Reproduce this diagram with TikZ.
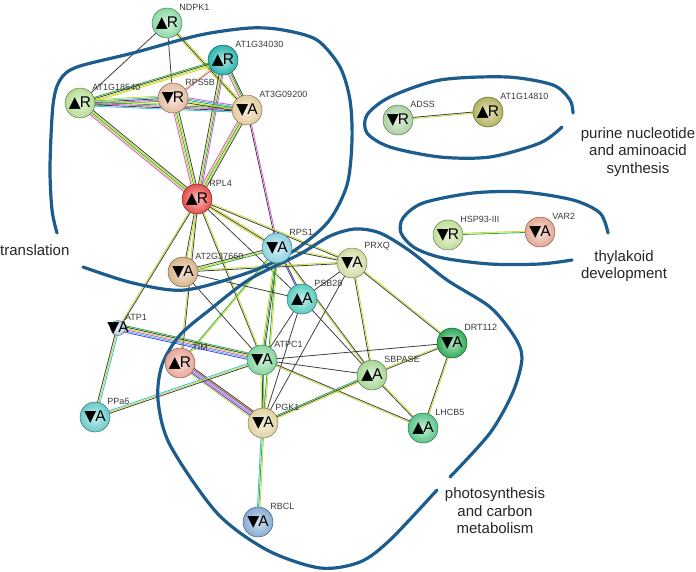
\documentclass[tikz,border=0pt]{standalone}
\usepackage{fontspec}
\setmainfont{Liberation Sans}
\newfontfamily\trifont{DejaVu Sans}
\usepackage{xcolor}
\usetikzlibrary{calc,backgrounds}

% interaction evidence colours
\definecolor{ek}{HTML}{404040}
\definecolor{ey}{HTML}{C8DC30}
\definecolor{eg}{HTML}{30AC3C}
\definecolor{em}{HTML}{DE4CDE}
\definecolor{ec}{HTML}{34C2E2}
\definecolor{eb}{HTML}{4444DC}
\definecolor{er}{HTML}{DE3030}
\definecolor{groupblue}{HTML}{1D5D8D}
\definecolor{lbltext}{HTML}{3A3A3A}
% protein colours
\definecolor{cndpk}{HTML}{8ED8A6}
\definecolor{cat34}{HTML}{2BB4AE}
\definecolor{cat18}{HTML}{B6DC96}
\definecolor{crps5b}{HTML}{E4BEA2}
\definecolor{cat09}{HTML}{E2CC9E}
\definecolor{crpl4}{HTML}{E64E4C}
\definecolor{crps1}{HTML}{8CD2E2}
\definecolor{cat37}{HTML}{D8B48C}
\definecolor{cprxq}{HTML}{D2DCA4}
\definecolor{cpsb28}{HTML}{5ACCBE}
\definecolor{catp1}{HTML}{B6CCE2}
\definecolor{ctim}{HTML}{E8A696}
\definecolor{catpc1}{HTML}{84D49E}
\definecolor{csbpase}{HTML}{A6D696}
\definecolor{cdrt}{HTML}{2EAC58}
\definecolor{clhcb5}{HTML}{5AC68A}
\definecolor{cppa6}{HTML}{6ACACA}
\definecolor{cpgk1}{HTML}{E2D2A2}
\definecolor{crbcl}{HTML}{84ACD4}
\definecolor{cadss}{HTML}{AAD2A2}
\definecolor{cat14}{HTML}{B4B25E}
\definecolor{chsp}{HTML}{C0DE98}
\definecolor{cvar2}{HTML}{E4A892}

\newcommand{\protfont}{\fontsize{15.5}{15.5}\selectfont}
\newcommand{\trup}{{\trifont ▲}\kern-1pt}
\newcommand{\trdn}{{\trifont ▼}\kern-1pt}

% bundle of parallel evidence lines between two proteins
\newcommand{\interact}[3]{%
  \foreach \c [count=\i] in {#3} {
    \pgfmathsetlengthmacro{\off}{ifthenelse(mod(\i,2)==0,1,-1)*int(\i/2)*1.3}
    \draw[color=\c, line width=0.8pt] ($(#1)!\off!90:(#2)$) -- ($(#2)!\off!-90:(#1)$);
  }}

\tikzset{
  prot/.style={circle, draw=#1!55!black, line width=0.5pt,
    inner color=#1!35!white, outer color=#1,
    minimum size=30pt, inner sep=0pt, font=\protfont},
  lbl/.style={anchor=south west, inner sep=0pt, label distance=2pt,
    font=\fontsize{9}{9}\selectfont, text=lbltext},
  grp/.style={draw=groupblue, line width=3.2pt, line cap=round},
  grplbl/.style={align=center, inner sep=0pt, text=black!85,
    font=\fontsize{15}{17.5}\selectfont}
}

\begin{document}
\begin{tikzpicture}[x=1pt, y=-1pt]
\useasboundingbox (0,0) rectangle (696,571);

\node[prot=cndpk, label={[lbl]45:NDPK1}] (ndpk1) at (167,23) {\trup R};
\node[prot=cat34, label={[lbl]45:AT1G34030}] (at1g34030) at (223,60) {\trup R};
\node[prot=cat18, label={[lbl]45:AT1G18540}] (at1g18540) at (80,103) {\trup R};
\node[prot=crps5b, label={[lbl]45:RPS5B}] (rps5b) at (173,98) {\trdn R};
\node[prot=cat09, label={[lbl]45:AT3G09200}] (at3g09200) at (247,110) {\trdn A};
\node[prot=crpl4, label={[lbl]45:RPL4}] (rpl4) at (197,199) {\trup R};
\node[prot=crps1, label={[lbl]45:RPS1}] (rps1) at (277,248) {\trdn A};
\node[prot=cat37, label={[lbl]45:AT2G37660}] (at2g37660) at (183,272) {\trdn A};
\node[prot=cprxq, label={[lbl]45:PRXQ}] (prxq) at (352,263) {\trdn A};
\node[prot=cpsb28, label={[lbl]45:PSB28}] (psb28) at (302,299) {\trup A};
\node[prot=catp1, minimum size=15pt, label={[lbl]45:ATP1},
  label={[font=\protfont]center:\trdn A}] (atp1) at (118,328) {};
\node[prot=ctim, label={[lbl]45:TIM}] (tim) at (180,363) {\trup R};
\node[prot=catpc1, label={[lbl]45:ATPC1}] (atpc1) at (262,360) {\trdn A};
\node[prot=csbpase, label={[lbl]45:SBPASE}] (sbpase) at (372,375) {\trup A};
\node[prot=cdrt, label={[lbl]45:DRT112}] (drt112) at (452,343) {\trdn A};
\node[prot=clhcb5, label={[lbl]45:LHCB5}] (lhcb5) at (423,428) {\trup A};
\node[prot=cppa6, label={[lbl]45:PPa6}] (ppa6) at (95,417) {\trdn A};
\node[prot=cpgk1, label={[lbl]45:PGK1}] (pgk1) at (263,423) {\trdn A};
\node[prot=crbcl, label={[lbl]45:RBCL}] (rbcl) at (258,522) {\trdn A};
\node[prot=cadss, label={[lbl]45:ADSS}] (adss) at (398,120) {\trdn R};
\node[prot=cat14, label={[lbl]45:AT1G14810}] (at1g14810) at (488,112) {\trup R};
\node[prot=chsp, label={[lbl]45:HSP93-III}] (hsp93) at (448,235) {\trdn R};
\node[prot=cvar2, label={[lbl]45:VAR2}] (var2) at (540,232) {\trdn A};

% group names
\node[grplbl, anchor=west] (translation) at (0,250) {translation};
\node[grplbl] (purine) at (638,152) {purine nucleotide\\and aminoacid\\synthesis};
\node[grplbl] (thylakoid) at (624,266) {thylakoid\\development};
\node[grplbl] (photo) at (495,511) {photosynthesis\\and carbon\\metabolism};

\begin{pgfonlayer}{background}
  % ribosome cluster
  \interact{ndpk1}{at1g18540}{ek}
  \interact{ndpk1}{rps5b}{ek}
  \interact{ndpk1}{at3g09200}{ek,ey,ey}
  \interact{at1g34030}{at1g18540}{ek,ey,eg,ey}
  \interact{at1g34030}{rps5b}{ey,em}
  \interact{at1g34030}{at3g09200}{ey,eg,em,ek}
  \interact{at1g34030}{rpl4}{ey,eg,ek,em}
  \interact{at1g18540}{rps5b}{ek,ec,em,ey,eg}
  \interact{at1g18540}{at3g09200}{em,eg,ek,ey,ec}
  \interact{rps5b}{at3g09200}{eg,ec,ey,em,ek}
  \interact{at1g18540}{rpl4}{eg,ey,ey,ek,em}
  \interact{rps5b}{rpl4}{eg,ey,ey,ek,em}
  \interact{at3g09200}{rpl4}{eg,ey,ey,ek,em}
  \interact{at3g09200}{rps1}{ek,em}
  % RPL4 to the rest
  \interact{rpl4}{rps1}{ek,ey,ey}
  \interact{rpl4}{at2g37660}{ek,ey}
  \interact{rpl4}{atp1}{ey,ek}
  \interact{rpl4}{tim}{ey,ek}
  \interact{rpl4}{atpc1}{ek,ey}
  \interact{rpl4}{prxq}{ek,ey}
  \interact{rpl4}{psb28}{ek}
  % RPS1
  \interact{rps1}{at2g37660}{ey,eg,ek}
  \interact{rps1}{prxq}{ek,ey}
  \interact{rps1}{psb28}{eb,ek}
  \interact{rps1}{atpc1}{eg,ek,ey}
  \interact{rps1}{pgk1}{eg,ey}
  \interact{rps1}{tim}{eg,ey}
  \interact{rps1}{sbpase}{ey,ek}
  % AT2G37660, PRXQ, PSB28
  \interact{at2g37660}{prxq}{ek,ey}
  \interact{at2g37660}{psb28}{ek}
  \interact{at2g37660}{atpc1}{ek}
  \interact{prxq}{psb28}{ek}
  \interact{prxq}{sbpase}{ek,ey}
  \interact{prxq}{drt112}{ek,ey}
  \interact{prxq}{pgk1}{ek}
  \interact{psb28}{atpc1}{ek}
  \interact{psb28}{pgk1}{ek}
  \interact{psb28}{sbpase}{ek}
  % ATP synthase and carbon metabolism
  \interact{atp1}{atpc1}{em,ey,ec,ek,eb,eg}
  \interact{atp1}{ppa6}{ey,ec,ek}
  \interact{tim}{pgk1}{em,ec,eb,er,ey,ek}
  \interact{ppa6}{atpc1}{ey,ec,ek}
  \interact{atpc1}{pgk1}{ek,eg,ey}
  \interact{atpc1}{sbpase}{ek}
  \interact{atpc1}{drt112}{ek}
  \interact{atpc1}{lhcb5}{ey,ek}
  \interact{pgk1}{sbpase}{ek,eg,ey}
  \interact{pgk1}{rbcl}{eg,ey,ec}
  \interact{sbpase}{drt112}{ek,ey}
  \interact{sbpase}{lhcb5}{ek,ey}
  \interact{drt112}{lhcb5}{ek,ey}
  % small groups
  \interact{adss}{at1g14810}{ey,ek}
  \interact{hsp93}{var2}{eg,ey}

  % group outlines
  \draw[grp] plot[smooth] coordinates {(83,267) (133,283) (185,290) (250,272)
    (292,252) (328,222) (347,185) (352,140) (350,100) (340,67) (317,40)
    (283,30) (250,28) (200,35) (133,53) (77,67) (60,80) (53,105) (50,167)
    (52,210) (57,233)};
  \draw[grp] plot[smooth] coordinates {(573,113) (570,100) (553,85) (507,77)
    (440,80) (390,97) (367,115) (367,133) (390,147) (440,157) (490,157)
    (540,143) (562,127)};
  \draw[grp] plot[smooth] coordinates {(608,233) (600,213) (573,200) (523,192)
    (473,193) (423,203) (403,218) (401,233) (415,248) (443,258) (490,264)
    (540,264) (572,260)};
  \draw[grp] plot[smooth] coordinates {(450,477) (490,433) (513,392) (522,358)
    (514,336) (490,307) (447,280) (410,251) (380,233) (355,229) (330,236)
    (300,254) (250,279) (212,308) (180,335) (162,365) (158,400) (170,445)
    (217,513) (267,550) (320,568) (360,562) (390,540) (437,490)};
\end{pgfonlayer}
\end{tikzpicture}
\end{document}
